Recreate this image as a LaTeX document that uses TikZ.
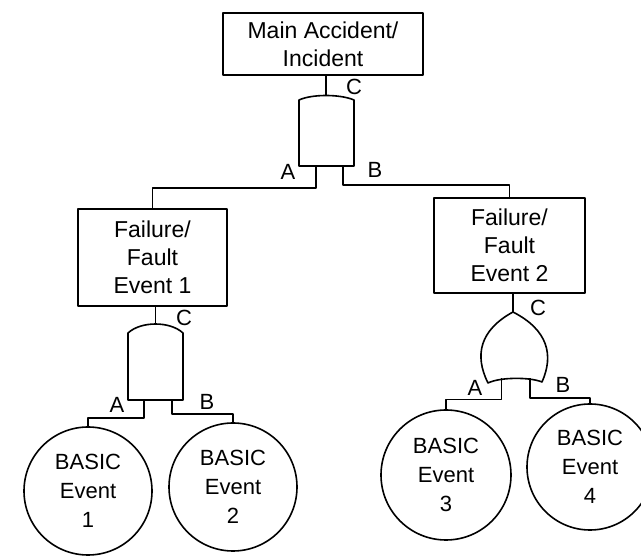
\documentclass[tikz,border=0pt]{standalone}
\usepackage{fontspec}
\setmainfont{Liberation Sans}
\begin{document}
\begin{tikzpicture}[x=1pt,y=-1pt,
  line width=1.6pt, line join=round,
  event/.style={draw, rectangle, align=center, inner sep=0pt,
    font=\fontsize{23}{28}\selectfont},
  basic/.style={draw, circle, align=center, inner sep=0pt,
    font=\fontsize{22}{29}\selectfont},
  port/.style={inner sep=0pt, font=\fontsize{22}{22}\selectfont},
  gate/.style={draw, fill=white}
]
\clip (0,0) rectangle (641,556);

% events
\node[event, minimum width=200pt, minimum height=62pt] (top) at (323,44) {Main Accident/\\Incident};
\node[event, minimum width=149pt, minimum height=97pt] (f1) at (152.5,257.5) {Failure/\\Fault\\Event 1};
\node[event, minimum width=151pt, minimum height=95pt] (f2) at (509.5,245.5) {Failure/\\Fault\\Event 2};

% basic events
\node[basic, minimum size=128pt] (c1) at (88,491) {BASIC\\Event\\1};
\node[basic, minimum size=128pt] (c2) at (233,487) {BASIC\\Event\\2};
\node[basic, minimum size=130pt] (c3) at (446,475) {BASIC\\Event\\3};
\node[basic, minimum size=126pt] (c4) at (590,467) {BASIC\\Event\\4};

% AND gate under the main event
\draw[gate] (299,166) -- (299,100) .. controls (312,94) and (340,94) .. (354,100) -- (354,166) -- cycle;
\coordinate (g1out) at (326,95.5);
\coordinate (g1a) at (316,166);
\coordinate (g1b) at (343,166);

% AND gate under event 1
\draw[gate] (128,400) -- (128,333) .. controls (141,321) and (170,321) .. (183,333) -- (183,400) -- cycle;
\coordinate (g2out) at (155.5,324);
\coordinate (g2a) at (144,400);
\coordinate (g2b) at (172,400);

% OR gate under event 2
\draw[gate] (513,312) .. controls (548,330) and (554,355) .. (542,382)
  .. controls (530,377) and (500,377) .. (488,383)
  .. controls (474,355) and (480,330) .. (513,312) -- cycle;
\coordinate (g3out) at (513,312);
\coordinate (g3a) at (501.5,378.5);
\coordinate (g3b) at (530,378.5);

% connectors
\draw (g1out |- top.south) -- (g1out);
\draw (g1a) -- ++(0,22) -| (f1.north);
\draw (g1b) -- ++(0,19) -| (f2.north);

\draw (g2out |- f1.south) -- (g2out);
\draw (g2a) -- ++(0,18) -| (c1.north);
\draw (g2b) -- ++(0,14) -| (c2.north);

\draw (g3out |- f2.south) -- (g3out);
\draw (g3a) -- ++(0,21) -| (c3.north);
\draw (g3b) -- ++(0,19.5) -| (c4.north);

% port labels
\node[port] (l1c) at (354,87) {C};
\node[port] (l1a) at (288,172) {A};
\node[port] (l1b) at (375,170) {B};
\node[port] (l2c) at (184,318) {C};
\node[port] (l2a) at (117,405) {A};
\node[port] (l2b) at (207,402) {B};
\node[port] (l3c) at (538,308) {C};
\node[port] (l3a) at (475,388) {A};
\node[port] (l3b) at (563,385) {B};
\end{tikzpicture}
\end{document}
